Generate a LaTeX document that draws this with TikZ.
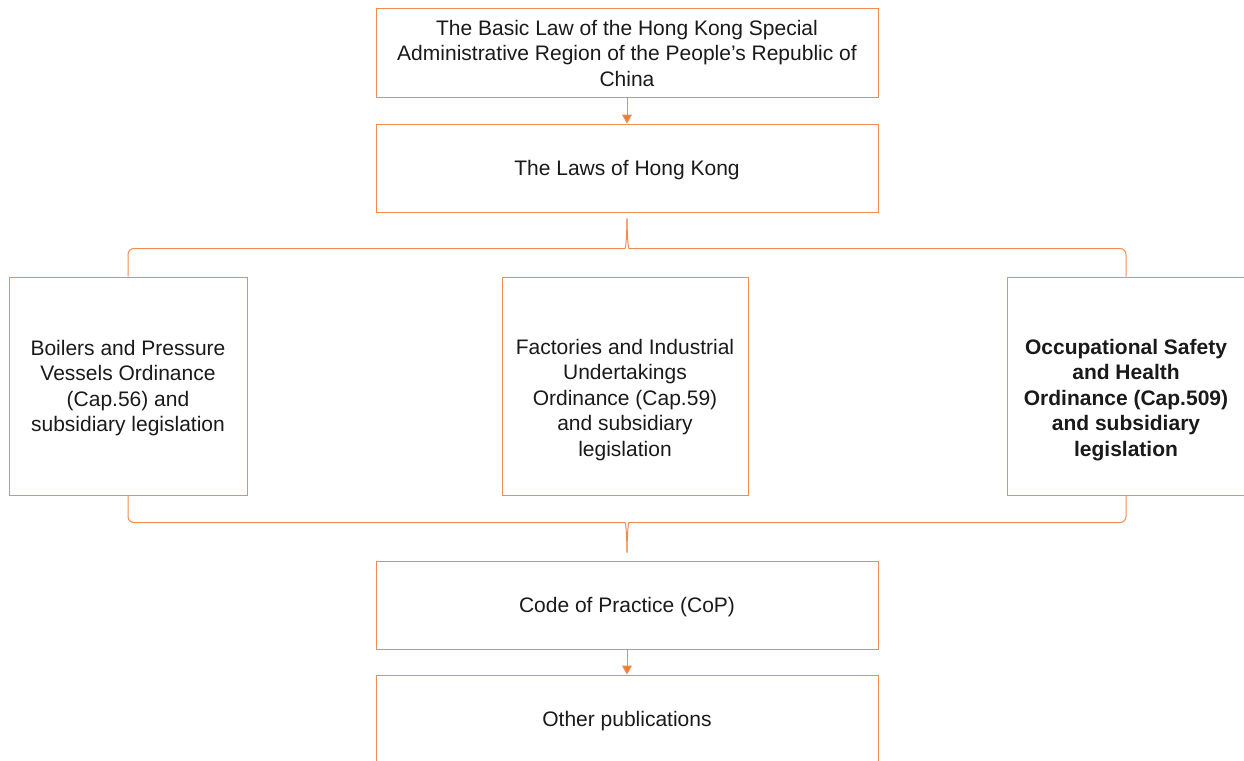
\documentclass[tikz,border=0pt]{standalone}
\usepackage{fontspec}
\setmainfont{Liberation Sans}
\usetikzlibrary{arrows.meta, calc}
\definecolor{law-line}{HTML}{EF8C50}
\definecolor{law-arrow}{HTML}{ED7D31}
\definecolor{law-text}{HTML}{1A1A1A}

\begin{document}
\begin{tikzpicture}[x=1pt, y=-1pt,
      every node/.style={font=\fontsize{21}{25.5}\selectfont, text=law-text, align=center},
      lawbox/.style={draw=law-line, line width=1pt, fill=white, minimum height=88pt},
      sidebox/.style={draw=law-line, line width=1pt, fill=white, minimum width=238pt, minimum height=218pt},
      conn/.style={draw=law-line, line width=1pt},
      down/.style={draw=law-line, line width=1pt, -{Triangle[width=10pt,length=9pt,fill=law-arrow]}}]
    \useasboundingbox (0,0) rectangle (1244,760);
    \clip (0,0) rectangle (1244,760);

    % top of the chain
    \node[lawbox, minimum width=502pt] (basiclaw) at (627,53)
      {The Basic Law of the Hong Kong Special\\Administrative Region of the People’s Republic of\\China};
    \node[lawbox, minimum width=502pt] (hklaws) at (627,168) {};
    \node (hklawstext) at ($(hklaws.center)+(0,2)$) {The Laws of Hong Kong};

    % the three ordinances
    \node[sidebox] (bpvo) at (128,386) {};
    \node (bpvotext) at ($(bpvo.center)+(0,2)$)
      {Boilers and Pressure\\Vessels Ordinance\\(Cap.56) and\\subsidiary legislation};
    \node[sidebox, minimum width=246pt] (fiuo) at (625,386) {};
    \node (fiuotext) at ($(fiuo.center)+(0,14)$)
      {Factories and Industrial\\Undertakings\\Ordinance (Cap.59)\\and subsidiary\\legislation};
    \node[sidebox] (osho) at (1126,386) {};
    \node[font=\fontsize{21}{25.5}\selectfont\bfseries] (oshotext) at ($(osho.center)+(0,14)$)
      {Occupational Safety\\and Health\\Ordinance (Cap.509)\\and subsidiary\\legislation};

    % below
    \node[lawbox, minimum width=502pt] (cop) at (627,605) {};
    \node (coptext) at ($(cop.center)+(0,2)$) {Code of Practice (CoP)};
    \node[lawbox, minimum width=502pt] (otherpub) at (627,719) {};
    \node (otherpubtext) at ($(otherpub.center)+(0,2)$) {Other publications};

    \draw[down] (basiclaw) -- (hklaws);
    \draw[down] (cop) -- (otherpub);

    % braces
    \coordinate (toptip) at ($(hklaws.south)+(0,6)$);
    \coordinate (bottip) at ($(cop.north)+(0,-8)$);
    \draw[conn, rounded corners=6pt] (bpvo.north) |- ($(toptip)+(-8,30)$)
      .. controls ($(toptip)+(-1,30)$) and ($(toptip)+(0,12)$) .. (toptip);
    \draw[conn, rounded corners=6pt] (osho.north) |- ($(toptip)+(8,30)$)
      .. controls ($(toptip)+(1,30)$) and ($(toptip)+(0,12)$) .. (toptip);
    \draw[conn, rounded corners=6pt] (bpvo.south) |- ($(bottip)+(-8,-30)$)
      .. controls ($(bottip)+(-1,-30)$) and ($(bottip)+(0,-12)$) .. (bottip);
    \draw[conn, rounded corners=6pt] (osho.south) |- ($(bottip)+(8,-30)$)
      .. controls ($(bottip)+(1,-30)$) and ($(bottip)+(0,-12)$) .. (bottip);
  \end{tikzpicture}
\end{document}
